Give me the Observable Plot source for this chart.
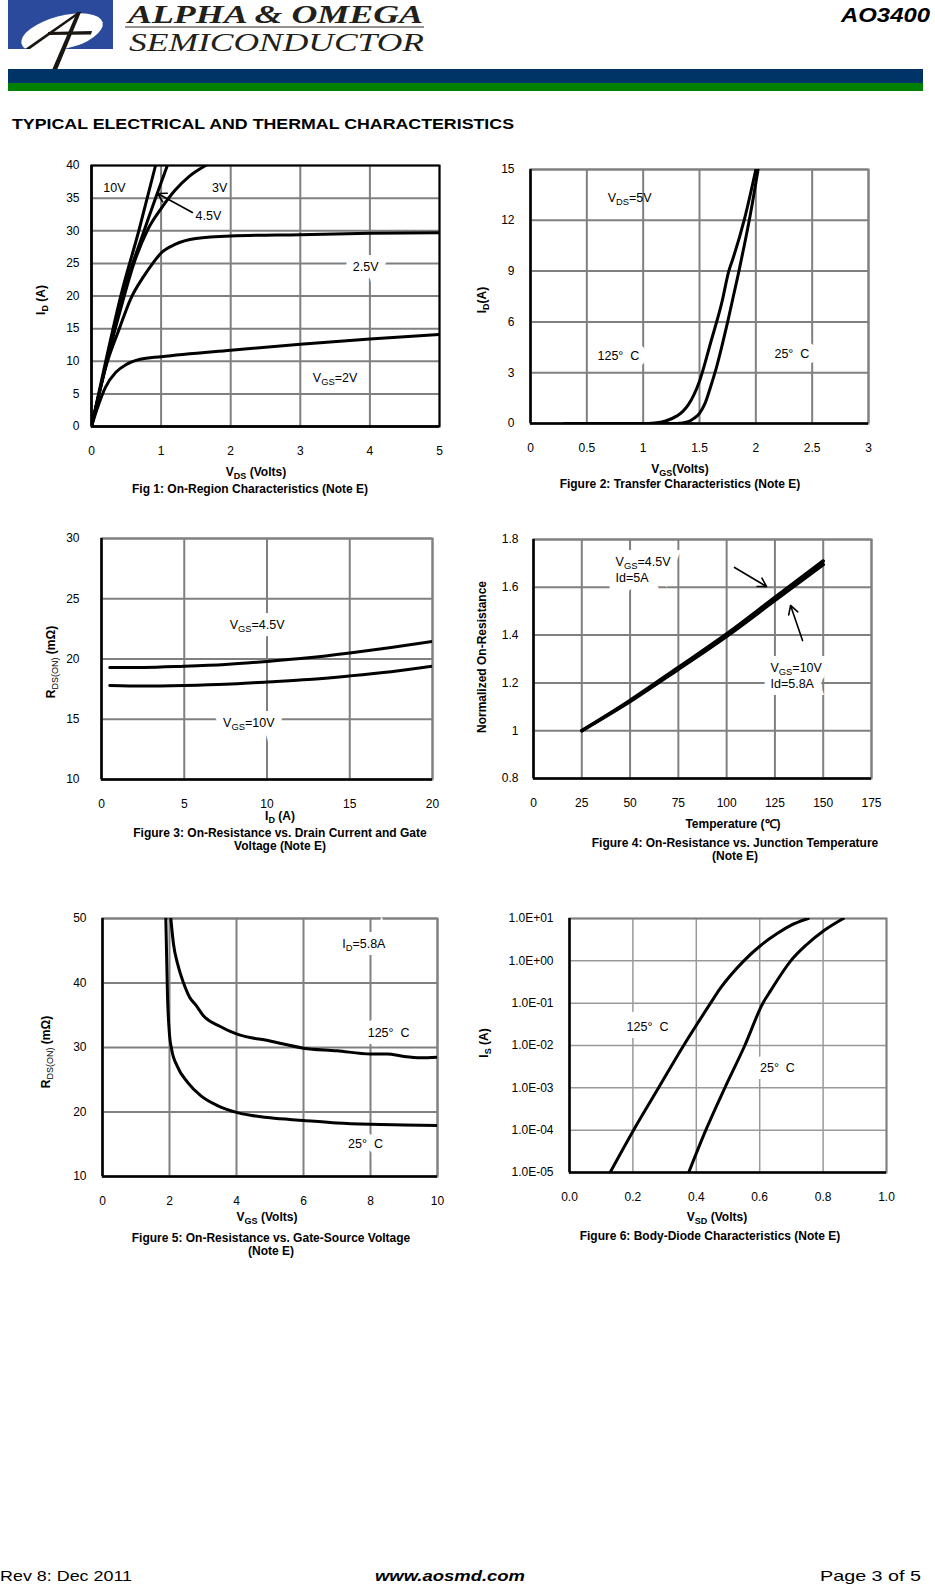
<!DOCTYPE html>
<html><head><meta charset="utf-8">
<script src="https://cdn.jsdelivr.net/npm/d3@7"></script>
<script src="https://cdn.jsdelivr.net/npm/@observablehq/plot@0.6"></script>
<style>
body{margin:0;background:#fff;}
#page{position:relative;width:935px;height:1594px;overflow:hidden;font-family:"Liberation Sans",Arial,sans-serif;background:#fff;}
.t{position:absolute;white-space:nowrap;font-weight:bold;font-size:12px;color:#000;transform:translate(-50%,-50%);line-height:1.1;}
.r{transform:translate(-50%,-50%) rotate(-90deg);}
sub{font-size:75%;vertical-align:-3px;line-height:0;}
</style></head><body><div id="page"></div>
<script>
// ---------- DATA ----------
// Fig 1: On-region characteristics (VDS in V, ID in A)
const f1_vds_10V  = [0, 0.2, 0.42, 0.68, 0.92];
const f1_id_10V   = [0, 9.8, 20, 30, 40];
const f1_vds_4V5  = [0, 0.21, 0.445, 0.756, 1.09];
const f1_id_4V5   = [0, 9.6, 20, 30, 40];
const f1_vds_3V   = [0, 0.22, 0.47, 0.61, 0.8, 1.0, 1.2, 1.4, 1.64];
const f1_id_3V    = [0, 10, 20, 25, 30, 33.4, 36.2, 38.3, 40];
const f1_vds_2V5  = [0, 0.23, 0.4, 0.56, 0.75, 0.88, 1.0, 1.2, 1.5, 2, 3, 4, 5];
const f1_id_2V5   = [0, 10, 15, 19.5, 23, 25, 26.6, 27.9, 28.8, 29.2, 29.4, 29.6, 29.7];
const f1_vds_2V   = [0, 0.1, 0.2, 0.35, 0.5, 0.7, 1, 2, 3, 4, 5];
const f1_id_2V    = [0, 3.3, 6, 8.3, 9.5, 10.3, 10.7, 11.7, 12.6, 13.4, 14.1];
const f1_xticks = [0, 1, 2, 3, 4, 5];
const f1_yticks = [0, 5, 10, 15, 20, 25, 30, 35, 40];

// Fig 2: Transfer characteristics (VGS in V, ID in A)
const f2_vgs_125 = [0.3, 1.0, 1.1, 1.2, 1.3, 1.35, 1.4, 1.5, 1.6, 1.7, 1.76, 1.8, 1.9, 2.0];
const f2_id_125  = [0, 0, 0.03, 0.15, 0.45, 0.7, 1.1, 2.5, 4.8, 7.2, 9, 9.8, 12.1, 15];
const f2_vgs_25  = [0.3, 1.3, 1.4, 1.45, 1.5, 1.55, 1.6, 1.65, 1.7, 1.75, 1.8, 1.85, 1.9, 1.95, 2.02];
const f2_id_25   = [0, 0, 0.1, 0.3, 0.6, 1.2, 2.2, 3.3, 4.6, 6, 7.5, 9, 10.6, 12.3, 15];
const f2_xticks = [0, 0.5, 1, 1.5, 2, 2.5, 3];
const f2_yticks = [0, 3, 6, 9, 12, 15];

// Fig 3: RDS(ON) vs ID (A, mOhm)
const f3_id       = [0.5, 2.5, 5, 7.5, 10, 12.5, 15, 17.5, 20];
const f3_r_4V5    = [19.3, 19.3, 19.4, 19.55, 19.8, 20.1, 20.5, 20.95, 21.45];
const f3_r_10V    = [17.8, 17.75, 17.8, 17.9, 18.1, 18.3, 18.6, 18.95, 19.4];
const f3_xticks = [0, 5, 10, 15, 20];
const f3_yticks = [10, 15, 20, 25, 30];

// Fig 4: Normalized on-resistance vs temperature
const f4_temp   = [25, 50, 75, 100, 125, 150];
const f4_r_4V5  = [1.0, 1.127, 1.265, 1.405, 1.558, 1.71];
const f4_r_10V  = [1.0, 1.122, 1.257, 1.395, 1.545, 1.695];
const f4_xticks = [0, 25, 50, 75, 100, 125, 150, 175];
const f4_yticks = [0.8, 1, 1.2, 1.4, 1.6, 1.8];

// Fig 5: RDS(ON) vs VGS (V, mOhm)
const f5_vgs_125 = [2.04, 2.12, 2.24, 2.42, 2.6, 2.8, 3, 3.5, 4, 5, 6, 7, 8, 8.5, 9, 9.5, 10];
const f5_r_125   = [50, 46, 43, 40, 37.8, 36.5, 35, 33.3, 32.1, 31, 29.9, 29.5, 29, 29, 28.6, 28.4, 28.5];
const f5_vgs_25  = [1.89, 1.94, 2.0, 2.06, 2.24, 2.54, 2.94, 3.43, 4.03, 5, 6, 7, 8, 9, 10];
const f5_r_25    = [50, 38, 32, 29.8, 27, 24.6, 22.5, 21, 19.9, 19.1, 18.7, 18.3, 18.1, 18, 17.9];
const f5_xticks = [0, 2, 4, 6, 8, 10];
const f5_yticks = [10, 20, 30, 40, 50];

// Fig 6: Body-diode characteristics (VSD in V, IS in A, log)
const f6_vsd_125 = [0.128, 0.202, 0.281, 0.36, 0.445, 0.475, 0.55, 0.603, 0.655, 0.698, 0.753];
const f6_is_125  = [1e-5, 1e-4, 1e-3, 1e-2, 0.1, 0.22, 1, 2.3, 4.4, 6.9, 10];
const f6_vsd_25  = [0.376, 0.43, 0.49, 0.553, 0.61, 0.635, 0.698, 0.745, 0.803, 0.864];
const f6_is_25   = [1e-5, 1e-4, 1e-3, 1e-2, 0.1, 0.2, 1, 2.3, 5.2, 10];
const f6_xticks = [0, 0.2, 0.4, 0.6, 0.8, 1.0];
const f6_yticks = [1e-5, 1e-4, 1e-3, 1e-2, 1e-1, 1, 10];

// ---------- ANNOTATIONS (data coordinates) ----------
const f1_notes   = [{x:0.33,y:36.6,t:"10V"},{x:1.84,y:36.6,t:"3V"},{x:1.68,y:32.3,t:"4.5V"},{x:3.5,y:7.5,t:"V_{GS}=2V"}];
const f1_notesBg = [{x:3.94,y:24.4,t:"2.5V"}];
const f1_arrows  = [{x1:1.45,y1:32.8,x2:0.95,y2:35.7}];
const f2_notes   = [{x:0.88,y:13.3,t:"V_{DS}=5V"}];
const f2_notesBg = [{x:0.78,y:3.96,t:"125°  C"},{x:2.32,y:4.1,t:"25°  C"}];
const f3_notesBg = [{x:9.4,y:22.8,t:"V_{GS}=4.5V"},{x:8.9,y:14.7,t:"V_{GS}=10V"}];
const f4_notesBg = [{x:42.5,y:1.704,t:"V_{GS}=4.5V"},{x:42.5,y:1.641,t:"Id=5A"},{x:122.7,y:1.264,t:"V_{GS}=10V"},{x:122.7,y:1.197,t:"Id=5.8A"}];
const f4_arrows  = [{x1:104.1,y1:1.683,x2:120.7,y2:1.603},{x1:139.3,y1:1.377,x2:133.1,y2:1.524}];
const f5_notesBg = [{x:7.8,y:46,t:"I_{D}=5.8A"},{x:8.54,y:32.2,t:"125°  C"},{x:7.85,y:15.1,t:"25°  C"}];
const f6_notesBg = [{x:0.246,y:0.028,t:"125°  C"},{x:0.656,y:0.0029,t:"25°  C"}];

// ---------- HELPERS ----------
const page = document.getElementById("page");
const FONT = '"Liberation Sans", Arial, sans-serif';
const pts = (xs, ys) => xs.map((x, i) => ({x, y: ys[i]}));
const curve = (xs, ys, w = 3) => Plot.line(pts(xs, ys), {x:"x", y:"y", stroke:"#000", strokeWidth:w, curve:"monotone-x", clip:true});
const notes = (arr, anchor = "middle") => Plot.text(arr, {x:"x", y:"y", text:"t", fontSize:12.5, fill:"#000", textAnchor:anchor});
const notesBg = (arr, anchor = "middle") => [
  Plot.text(arr, {x:"x", y:"y", text:"t", fontSize:12.5, fill:"white", textAnchor:anchor, stroke:"white", strokeWidth:14, strokeLinejoin:"miter"}),
  Plot.text(arr, {x:"x", y:"y", text:"t", fontSize:12.5, fill:"#000", textAnchor:anchor})
];
const arrows = (arr) => Plot.arrow(arr, {x1:"x1", y1:"y1", x2:"x2", y2:"y2", stroke:"#000", strokeWidth:1.6, headLength:9});

function subify(root) {
  root.querySelectorAll("text, tspan").forEach(el => {
    if (el.children.length) return;
    const s = el.textContent;
    if (!s.includes("_{")) return;
    el.textContent = "";
    const re = /_\{([^}]*)\}/g; let last = 0, m, shifted = false;
    const NS = "http://www.w3.org/2000/svg";
    const add = (txt, attrs) => { const t = document.createElementNS(NS, "tspan"); for (const k in attrs) t.setAttribute(k, attrs[k]); t.textContent = txt; el.appendChild(t); };
    while ((m = re.exec(s))) {
      if (m.index > last) add(s.slice(last, m.index), shifted ? {dy: -3} : {});
      add(m[1], {dy: 3, "font-size": "75%"}); shifted = true;
      last = re.lastIndex;
    }
    if (last < s.length) add(s.slice(last), shifted ? {dy: -3} : {});
  });
}

function chart(o) {
  const mL = 80, mR = 20, mT = 15, mB = 40;
  const svg = Plot.plot({
    width: o.w + mL + mR, height: o.h + mT + mB,
    marginLeft: mL, marginRight: mR, marginTop: mT, marginBottom: mB,
    style: {fontFamily: FONT, fontSize: "12px", color: "#000", background: "transparent", overflow: "visible"},
    x: {type: "linear", domain: o.xd, ticks: o.xt, tickFormat: o.xf || (d => String(d)), tickSize: 0, tickPadding: 20, label: null},
    y: {type: o.ylog ? "log" : "linear", domain: o.yd, ticks: o.yt, tickFormat: o.yf || (d => String(d)), tickSize: 0, tickPadding: o.yPad ?? 16, label: null},
    marks: [
      Plot.gridX(o.xt, {stroke: o.grid || "#808080", strokeOpacity: 1, strokeWidth: o.gw || 2}),
      Plot.gridY(o.yt, {stroke: o.grid || "#808080", strokeOpacity: 1, strokeWidth: o.gw || 2}),
      Plot.frame({stroke: o.frame || "#808080", strokeWidth: 2}),
      Plot.ruleX([o.xd[0]], {stroke: "#000", strokeWidth: 2.5}),
      Plot.ruleY([o.yd[0]], {stroke: "#000", strokeWidth: 2.5}),
      ...o.marks.flat()
    ]
  });
  svg.style.position = "absolute";
  svg.style.left = (o.left - mL) + "px";
  svg.style.top = (o.top - mT) + "px";
  subify(svg);
  page.appendChild(svg);
}

function label(x, y, html, cls = "", extra = "") {
  const d = document.createElement("div");
  d.className = "t " + cls;
  d.style.left = x + "px"; d.style.top = y + "px";
  if (extra) d.style.cssText += extra;
  d.innerHTML = html;
  page.appendChild(d);
}

// ---------- HEADER / FOOTER ----------
page.insertAdjacentHTML("beforeend", `
<svg width="935" height="140" style="position:absolute;left:0;top:0">
  <defs><clipPath id="lc"><rect x="8" y="0" width="105" height="49"/></clipPath></defs>
  <rect x="8" y="0" width="105" height="49" fill="#2b4a9c"/>
  <ellipse cx="62" cy="33" rx="42" ry="17" transform="rotate(-15 62 33)" fill="#fff" clip-path="url(#lc)"/>
  <polygon points="78,12 82,12 30,49 25,49" fill="#1a1713"/>
  <polygon points="77,12 81,12 57,70 52,70" fill="#1a1713"/>
  <polygon points="48,32 92,31 91,34.5 48,35" fill="#1a1713"/>
  <text x="128" y="23" font-family="Liberation Serif, serif" font-style="italic" font-weight="bold" font-size="26" textLength="295" lengthAdjust="spacingAndGlyphs" fill="#231f1a">ALPHA &amp; OMEGA</text>
  <line x1="125" x2="424" y1="27" y2="27" stroke="#2a2520" stroke-width="1.2"/>
  <text x="129" y="51" font-family="Liberation Serif, serif" font-style="italic" font-size="26" textLength="295" lengthAdjust="spacingAndGlyphs" fill="#231f1a">SEMICONDUCTOR</text>
  <text x="930" y="22" text-anchor="end" font-family="Liberation Sans, Arial, sans-serif" font-style="italic" font-weight="bold" font-size="21" textLength="89" lengthAdjust="spacingAndGlyphs" fill="#000">AO3400</text>
  <rect x="8" y="69" width="915" height="14" fill="#003366"/>
  <rect x="8" y="83" width="915" height="8" fill="#008000"/>
  <text x="12" y="129" font-family="Liberation Sans, Arial, sans-serif" font-weight="bold" font-size="15.5" textLength="502" lengthAdjust="spacingAndGlyphs" fill="#000">TYPICAL ELECTRICAL AND THERMAL CHARACTERISTICS</text>
</svg>
<svg width="935" height="39" style="position:absolute;left:0;top:1555px">
  <text x="0" y="26" font-family="Liberation Sans, Arial, sans-serif" font-size="14.5" textLength="132" lengthAdjust="spacingAndGlyphs">Rev 8: Dec 2011</text>
  <text x="375" y="26" font-family="Liberation Sans, Arial, sans-serif" font-size="14.5" font-weight="bold" font-style="italic" textLength="150" lengthAdjust="spacingAndGlyphs">www.aosmd.com</text>
  <text x="820" y="26" font-family="Liberation Sans, Arial, sans-serif" font-size="14.5" textLength="101" lengthAdjust="spacingAndGlyphs">Page 3 of 5</text>
</svg>`);

// ---------- CHARTS ----------
chart({left:91, top:165, w:348, h:261, xd:[0,5], yd:[0,40], xt:f1_xticks, yt:f1_yticks, yPad:12, frame:"#000",
  marks:[curve(f1_vds_2V,f1_id_2V), curve(f1_vds_2V5,f1_id_2V5), curve(f1_vds_3V,f1_id_3V), curve(f1_vds_4V5,f1_id_4V5), curve(f1_vds_10V,f1_id_10V),
         notes(f1_notes), notesBg(f1_notesBg), arrows(f1_arrows)]});
label(256, 473, "V<sub>DS</sub> (Volts)");
label(250, 490, "Fig 1: On-Region Characteristics (Note E)");
label(42, 300, "I<sub>D</sub> (A)", "r");

chart({left:530, top:169, w:338, h:254, xd:[0,3], yd:[0,15], xt:f2_xticks, yt:f2_yticks,
  marks:[curve(f2_vgs_125,f2_id_125), curve(f2_vgs_25,f2_id_25), notes(f2_notes), notesBg(f2_notesBg)]});
label(680, 470, "V<sub>GS</sub>(Volts)");
label(680, 485, "Figure 2: Transfer Characteristics (Note E)");
label(483, 300, "I<sub>D</sub>(A)", "r");

chart({left:101, top:538, w:331, h:241, xd:[0,20], yd:[10,30], xt:f3_xticks, yt:f3_yticks, yPad:22,
  marks:[curve(f3_id,f3_r_4V5), curve(f3_id,f3_r_10V), notesBg(f3_notesBg)]});
label(280, 817, "I<sub>D</sub> (A)");
label(280, 840, "Figure 3: On-Resistance vs. Drain Current and Gate<br>Voltage (Note E)", "", "text-align:center;");
label(52, 662, "R<sub style='font-weight:normal'>DS(ON)</sub> (mΩ)", "r");

chart({left:533, top:539, w:338, h:239, xd:[0,175], yd:[0.8,1.8], xt:f4_xticks, yt:f4_yticks, yPad:15,
  marks:[curve(f4_temp,f4_r_4V5,3.5), curve(f4_temp,f4_r_10V,3.5), arrows(f4_arrows), notesBg(f4_notesBg,"start")]});
label(733, 825, "Temperature (℃)");
label(735, 850, "Figure 4: On-Resistance vs. Junction Temperature<br>(Note E)", "", "text-align:center;");
label(483, 657, "Normalized On-Resistance", "r");

chart({left:102, top:918, w:335, h:258, xd:[0,10], yd:[10,50], xt:f5_xticks, yt:f5_yticks,
  marks:[curve(f5_vgs_125,f5_r_125), curve(f5_vgs_25,f5_r_25), notesBg(f5_notesBg)]});
label(267, 1218, "V<sub>GS</sub> (Volts)");
label(271, 1245, "Figure 5: On-Resistance vs. Gate-Source Voltage<br>(Note E)", "", "text-align:center;");
label(47, 1052, "R<sub style='font-weight:normal'>DS(ON)</sub> (mΩ)", "r");

const sciFmt = d => { const e = Math.round(Math.log10(d)); return "1.0E" + (e >= 0 ? "+" : "-") + String(Math.abs(e)).padStart(2, "0"); };
chart({left:569, top:918, w:317, h:254, xd:[0,1], yd:[1e-5,10], ylog:true, xt:f6_xticks, yt:f6_yticks, xf:d3.format(".1f"), yf:sciFmt, grid:"#999", gw:1.5,
  marks:[curve(f6_vsd_125,f6_is_125), curve(f6_vsd_25,f6_is_25), notesBg(f6_notesBg)]});
label(717, 1218, "V<sub>SD</sub> (Volts)");
label(710, 1237, "Figure 6: Body-Diode Characteristics (Note E)");
label(485, 1043, "I<sub>S</sub> (A)", "r");
</script>
</body></html>
